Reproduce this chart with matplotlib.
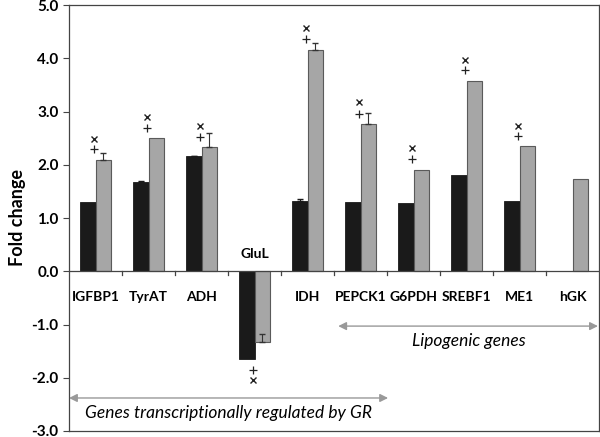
import matplotlib
matplotlib.use("Agg")
import matplotlib.pyplot as plt
import numpy as np

plt.rcParams['font.family'] = ['Lato', 'DejaVu Sans']

genes = ["IGFBP1", "TyrAT", "ADH", "GluL", "IDH", "PEPCK1", "G6PDH", "SREBF1", "ME1", "hGK"]
black_vals = [1.30, 1.68, 2.16, -1.65, 1.32, 1.30, 1.28, 1.80, 1.31, 0.0]
black_err = [0.0, 0.01, 0.01, 0.0, 0.03, 0.0, 0.0, 0.0, 0.0, 0.0]
gray_vals = [2.09, 2.50, 2.33, -1.33, 4.15, 2.76, 1.91, 3.57, 2.35, 1.74]
gray_err = [0.13, 0.0, 0.27, 0.15, 0.13, 0.22, 0.0, 0.0, 0.0, 0.0]
cross_y = [2.48, 2.89, 2.72, -2.05, 4.56, 3.17, 2.31, 3.96, 2.73, None]
plus_y = [2.29, 2.69, 2.53, -1.86, 4.36, 2.96, 2.10, 3.77, 2.54, None]
yticks = [-3.0, -2.0, -1.0, 0.0, 1.0, 2.0, 3.0, 4.0, 5.0]

fig = plt.figure(figsize=(6, 4.37), dpi=100)
ax = fig.add_axes([69/600, 6/437, 530/600, 426/437])

x = np.arange(len(genes))
w = 0.29
ax.bar(x - w/2, black_vals, w, color="#1a1a1a", edgecolor="#1a1a1a", linewidth=0.6, zorder=2)
ax.bar(x + w/2, gray_vals, w, color="#a6a6a6", edgecolor="#5a5a5a", linewidth=0.8, zorder=2)

for i in range(len(genes)):
    if black_err[i] > 0:
        ax.errorbar(x[i] - w/2, black_vals[i], yerr=[[0], [black_err[i]]], fmt="none",
                    ecolor="#1a1a1a", elinewidth=0.8, capsize=2, zorder=3)
    if gray_err[i] > 0:
        ax.errorbar(x[i] + w/2, gray_vals[i], yerr=[[0], [gray_err[i]]], fmt="none",
                    ecolor="#333333", elinewidth=0.8, capsize=2, zorder=3)
    if cross_y[i] is not None:
        ax.plot(x[i] - 0.02, cross_y[i], marker="x", markersize=4.5, mew=1.0,
                color="#222222", linestyle="none", zorder=3)
        ax.plot(x[i] - 0.02, plus_y[i], marker="+", markersize=5.5, mew=0.9,
                color="#222222", linestyle="none", zorder=3)

ax.set_xlim(-0.5, len(genes) - 0.5)
ax.set_ylim(-3.0, 5.0)
ax.set_yticks(yticks)
ax.set_yticklabels([f"{t:.1f}" for t in yticks], fontsize=11, fontweight="bold")
ax.tick_params(axis="y", length=4.5, width=0.8, color="#444444", pad=3)
ax.set_xticks([])
for s in ax.spines.values():
    s.set_color("#444444")
    s.set_linewidth(0.9)

ax.axhline(0, color="#444444", linewidth=0.9, zorder=4)
for b in np.arange(0.5, len(genes) - 0.5, 1.0):
    ax.plot([b, b], [0, -0.07], color="#444444", linewidth=0.9, zorder=4, clip_on=False)

for i, g in enumerate(genes):
    if g == "GluL":
        ax.text(x[i], 0.32, g, ha="center", va="center", fontsize=10, fontweight="bold")
    else:
        ax.text(x[i], -0.49, g, ha="center", va="center", fontsize=10, fontweight="bold")

ax.set_ylabel("Fold change", fontsize=13, fontweight="bold", labelpad=4)

arrow_kw = dict(arrowstyle="<|-|>", color="#999999", lw=1.0, mutation_scale=12,
                shrinkA=0, shrinkB=0)
ax.annotate("", xy=(9.48, -1.03), xytext=(4.58, -1.03), arrowprops=arrow_kw)
ax.text(7.04, -1.31, "Lipogenic genes", ha="center", va="center", fontsize=12.5, style="italic")
ax.annotate("", xy=(5.52, -2.38), xytext=(-0.5, -2.38), arrowprops=arrow_kw)
ax.text(2.51, -2.67, "Genes transcriptionally regulated by GR", ha="center", va="center",
        fontsize=12.5, style="italic")

fig.savefig("out.png", dpi=100)
